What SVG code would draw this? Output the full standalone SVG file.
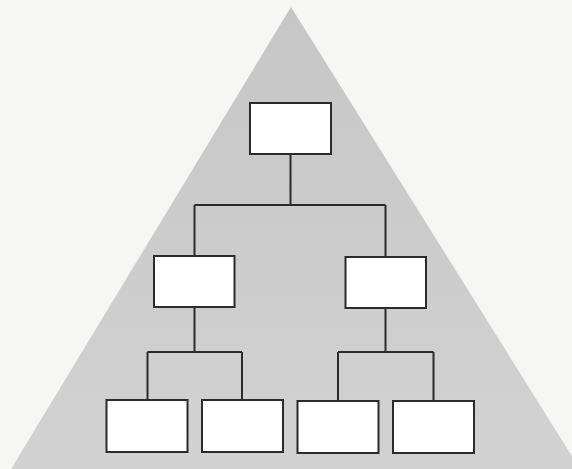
<svg xmlns="http://www.w3.org/2000/svg" width="572" height="469" viewBox="0 0 572 469">
  <style>
    .box { fill: #ffffff; stroke: #2b2b2b; stroke-width: 2; }
    .link { fill: none; stroke: #2b2b2b; stroke-width: 2; }
  </style>
  <defs>
    <linearGradient id="tri" x1="0" y1="0" x2="0" y2="1">
      <stop offset="0" stop-color="#c6c6c6"/>
      <stop offset="1" stop-color="#d2d2d2"/>
    </linearGradient>
  </defs>
  <rect x="0" y="0" width="572" height="469" fill="#f6f6f4"/>
  <polygon id="pyramid" points="291,7 11,469 580,469" fill="url(#tri)"/>
  <g id="connectors">
    <path class="link" d="M290.5,154 V205 M194.5,205 H385.5 M194.5,205 V256 M385.5,205 V257"/>
    <path class="link" d="M194.5,307 V352 M147.5,352 H242 M147.5,352 V400 M242,352 V400"/>
    <path class="link" d="M385.5,308 V352 M338,352 H433.5 M338,352 V401 M433.5,352 V401"/>
  </g>
  <g id="top"><rect class="box" x="250" y="103" width="81" height="51"/></g>
  <g id="mid-left"><rect class="box" x="154" y="256" width="80.5" height="51"/></g>
  <g id="mid-right"><rect class="box" x="345.5" y="257" width="80.5" height="51"/></g>
  <g id="bottom-1"><rect class="box" x="106.5" y="400" width="81" height="52"/></g>
  <g id="bottom-2"><rect class="box" x="202" y="400" width="81" height="52"/></g>
  <g id="bottom-3"><rect class="box" x="297.5" y="401" width="81" height="52"/></g>
  <g id="bottom-4"><rect class="box" x="393" y="401" width="81" height="52"/></g>
</svg>
